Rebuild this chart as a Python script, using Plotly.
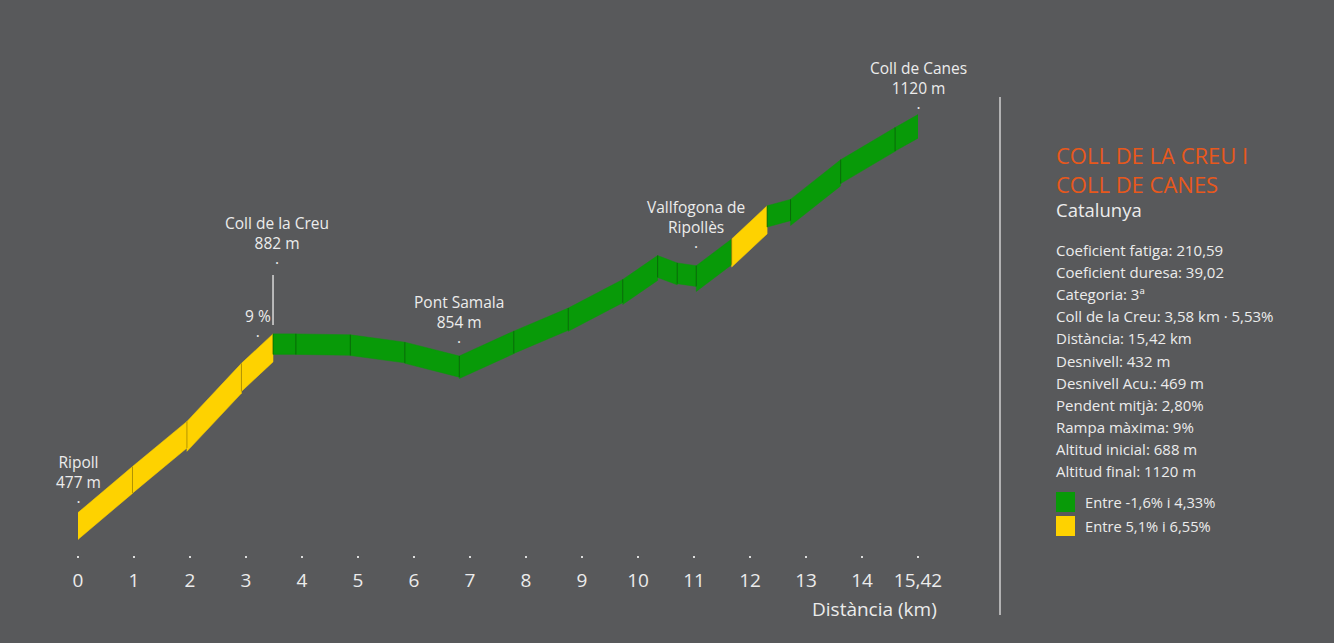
import numpy as np
import plotly.graph_objects as go


# Perfil: punts de pas (km) i altitud (m)
DISTANCE_KM = [0, 1, 2, 3, 3.58, 4, 5, 6, 7, 8, 9, 10, 10.64, 11, 11.35,
               12, 12.65, 13.08, 14, 15, 15.42]
ALTITUDE_M = [688, 738, 787, 850, 882, 882, 881, 873, 858, 885, 910, 941, 967,
              959, 956, 985, 1021, 1028, 1071, 1106, 1120]
# Tram i -> i+1: "alt" = 5,1%-6,55%, "baix" = -1,6%-4,33%
SEGMENT_BAND = ["alt"] * 4 + ["baix"] * 11 + ["alt"] + ["baix"] * 4

TICK_LABELS = [str(i) for i in range(15)] + ["15,42"]

PLACE_NAMES = ["Ripoll", "Coll de la Creu", "Pont Samala", "Vallfogona de<br>Ripollès", "Coll de Canes"]
PLACE_TEXT = ["477 m", "882 m", "854 m", "", "1120 m"]
PLACE_KM = [0, 3.58, 7, 11.35, 15.42]

TITLE_LINES = ["COLL DE LA CREU I", "COLL DE CANES"]
REGION = "Catalunya"
STATS = [
    "Coeficient fatiga: 210,59",
    "Coeficient duresa: 39,02",
    "Categoria: 3ª",
    "Coll de la Creu: 3,58 km · 5,53%",
    "Distància: 15,42 km",
    "Desnivell: 432 m",
    "Desnivell Acu.: 469 m",
    "Pendent mitjà: 2,80%",
    "Rampa màxima: 9%",
    "Altitud inicial: 688 m",
    "Altitud final: 1120 m",
]
LEGEND_LABELS = {"baix": "Entre -1,6% i 4,33%", "alt": "Entre 5,1% i 6,55%"}

BAND_COLORS = {"baix": "#089a08", "alt": "#fed200"}
BG = "#58595b"
TEXT = "#ececec"
ORANGE = "#e8581c"
FONT = "Open Sans, sans-serif"

# geometria del canvas
WIDTH, HEIGHT = 1334, 643
M_L, M_R, M_T, M_B = 78, 416, 40, 88
PLOT_W = WIDTH - M_L - M_R
PLOT_H = HEIGHT - M_T - M_B
X_RANGE = [0, 15.42]
Y_RANGE = [642, 1201]
PX_KM = PLOT_W / (X_RANGE[1] - X_RANGE[0])
PX_M = PLOT_H / (Y_RANGE[1] - Y_RANGE[0])
RIBBON_PX = 20.5


def paper_x(px):
    return (px - M_L) / PLOT_W


def paper_y(py):
    return (HEIGHT - M_B - py) / PLOT_H


km = np.array(DISTANCE_KM, dtype=float)
alt = np.array(ALTITUDE_M, dtype=float)

fig = go.Figure()

# gruix vertical de cada tram segons el pendent en pantalla
heights = []
for i, band in enumerate(SEGMENT_BAND):
    x0, x1 = km[i], km[i + 1]
    y0, y1 = alt[i], alt[i + 1]
    slope_px = (y1 - y0) * PX_M / ((x1 - x0) * PX_KM)
    h = RIBBON_PX * np.sqrt(1 + slope_px ** 2) / PX_M
    heights.append(h)
    fig.add_trace(
        go.Scatter(
            x=[x0, x1, x1, x0, x0],
            y=[y0, y1, y1 - h, y0 - h, y0],
            mode="lines",
            fill="toself",
            fillcolor=BAND_COLORS[band],
            line={"color": BAND_COLORS[band], "width": 0.5},
            hoverinfo="skip",
            showlegend=False,
        )
    )

# separadors entre trams
sep_x, sep_y = [], []
for i in range(1, len(km) - 1):
    h = min(heights[i - 1], heights[i])
    sep_x += [km[i], km[i], None]
    sep_y += [alt[i], alt[i] - h, None]
fig.add_trace(
    go.Scatter(
        x=sep_x, y=sep_y, mode="lines",
        line={"color": "rgba(0,0,0,0.28)", "width": 1},
        hoverinfo="skip", showlegend=False,
    )
)

# etiquetes dels punts
label_shift = [-2, 58, 1, 6, -6]
label_xshift = [0, 4, 0, 0, 0]
for name, txt, k, dy, dx in zip(PLACE_NAMES, PLACE_TEXT, PLACE_KM, label_shift, label_xshift):
    y = float(np.interp(k, km, alt))
    lines = name + ("<br>" + txt if txt else "") + "<br>·"
    fig.add_annotation(
        x=k, y=y, xref="x", yref="y", text=lines, showarrow=False,
        yanchor="bottom", yshift=dy, xshift=dx,
        font={"size": 15.5, "color": TEXT, "family": FONT},
        align="center",
    )

peak = ALTITUDE_M[4]
fig.add_annotation(
    x=DISTANCE_KM[4], y=peak, text="9 %<br>·", showarrow=False,
    yanchor="bottom", yshift=-15, xshift=-15,
    font={"size": 15.5, "color": TEXT, "family": FONT},
)
fig.add_shape(
    type="line", xref="x", yref="y",
    x0=DISTANCE_KM[4], x1=DISTANCE_KM[4],
    y0=peak + 9 / PX_M, y1=peak + 59 / PX_M,
    line={"color": "#d8d8d8", "width": 1.5},
)

fig.add_annotation(
    x=paper_x(939), y=paper_y(609), xref="paper", yref="paper",
    text="Distància (km)", showarrow=False, xanchor="right", yanchor="middle",
    font={"size": 19, "color": TEXT, "family": FONT},
)

# panell dret
fig.add_shape(
    type="line", xref="paper", yref="paper",
    x0=paper_x(1000), x1=paper_x(1000), y0=paper_y(97), y1=paper_y(615),
    line={"color": "#d0d0d0", "width": 1.5},
)
px_left = paper_x(1054)
fig.add_annotation(
    x=px_left, y=paper_y(169.5), xref="paper", yref="paper",
    text="<br>".join(TITLE_LINES), align="left",
    showarrow=False, xanchor="left", yanchor="middle",
    font={"size": 22, "color": ORANGE, "family": FONT},
)
fig.add_annotation(
    x=px_left, y=paper_y(210), xref="paper", yref="paper", text=REGION,
    showarrow=False, xanchor="left", yanchor="middle",
    font={"size": 18.5, "color": TEXT, "family": FONT},
)
for i, line in enumerate(STATS):
    fig.add_annotation(
        x=px_left, y=paper_y(250 + i * 22.1), xref="paper", yref="paper", text=line,
        showarrow=False, xanchor="left", yanchor="middle",
        font={"size": 15, "color": TEXT, "family": FONT},
    )
for band, py in zip(["baix", "alt"], [502, 526]):
    fig.add_shape(
        type="rect", xref="paper", yref="paper",
        x0=paper_x(1056), x1=paper_x(1075), y0=paper_y(py - 10), y1=paper_y(py + 10),
        fillcolor=BAND_COLORS[band], line={"width": 0},
    )
    fig.add_annotation(
        x=paper_x(1083), y=paper_y(py), xref="paper", yref="paper",
        text=LEGEND_LABELS[band], showarrow=False, xanchor="left", yanchor="middle",
        font={"size": 14.7, "color": TEXT, "family": FONT},
    )

fig.update_layout(
    width=WIDTH, height=HEIGHT,
    paper_bgcolor=BG, plot_bgcolor=BG,
    margin={"l": M_L, "r": M_R, "t": M_T, "b": M_B},
    font={"family": FONT, "color": TEXT},
    showlegend=False,
    hovermode=False,
)
fig.update_xaxes(
    range=X_RANGE, showgrid=False, zeroline=False, showline=False,
    tickvals=np.linspace(X_RANGE[0], X_RANGE[1], len(TICK_LABELS)),
    ticktext=TICK_LABELS,
    ticks="outside", ticklen=2, tickwidth=2, tickcolor="#dddddd",
    ticklabelstandoff=6,
    tickfont={"size": 19, "color": TEXT, "family": FONT},
)
fig.update_yaxes(range=Y_RANGE, visible=False)

fig.write_html(
    "out.html",
    config={"displayModeBar": False},
    post_script="document.body.style.margin='0';document.body.style.background='%s';" % BG,
)
